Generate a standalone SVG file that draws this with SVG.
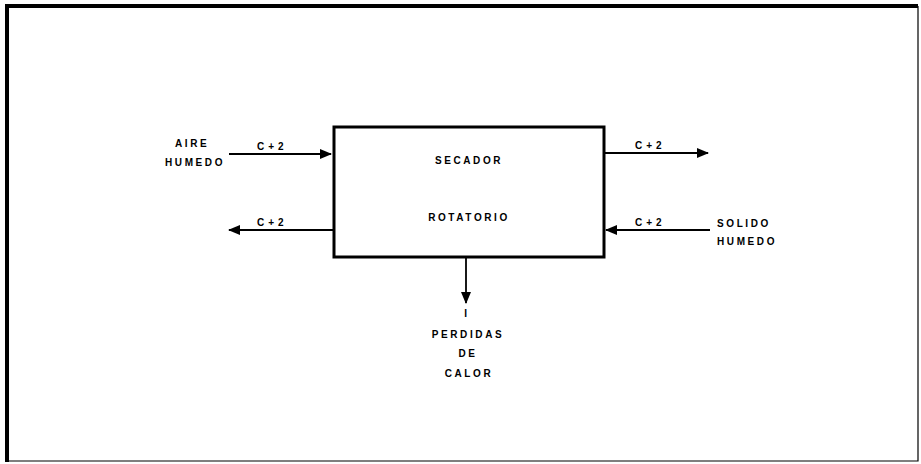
<svg xmlns="http://www.w3.org/2000/svg" width="921" height="464" viewBox="0 0 921 464">
<defs>
<marker id="ah" markerWidth="12" markerHeight="10" refX="11" refY="5" orient="auto" markerUnits="userSpaceOnUse">
<path d="M0,0 L12,5 L0,10 Z" fill="#000"/>
</marker>
<style>
.t{font-family:"Liberation Sans",Arial,sans-serif;font-weight:bold;font-size:10px;letter-spacing:2.6px;fill:#000}
.k{letter-spacing:4px}
.c{text-anchor:middle}
.ln{stroke:#000;stroke-width:1.8;fill:none}
</style>
</defs>
<rect width="921" height="464" fill="#fff"/>
<g id="frame">
<path d="M7,462 L7,6 L918,6" stroke="#000" stroke-width="4" fill="none"/>
<path d="M918,6 L918,461 L7,461" stroke="#000" stroke-width="1.2" fill="none"/>
</g>
<g id="secador">
<rect x="334" y="127" width="270" height="130" fill="none" stroke="#000" stroke-width="3"/>
<text class="t c" x="469" y="164">SECADOR</text>
<text class="t c" x="469" y="221">ROTATORIO</text>
</g>
<g id="aire-humedo">
<text class="t" x="175" y="147">AIRE</text>
<text class="t" x="165" y="166">HUMEDO</text>
</g>
<g id="solido-humedo">
<text class="t" x="717" y="227">SOLIDO</text>
<text class="t" x="717" y="245">HUMEDO</text>
</g>
<g id="perdidas">
<text class="t c" x="467" y="317">I</text>
<text class="t c" x="468" y="338">PERDIDAS</text>
<text class="t c" x="468" y="357">DE</text>
<text class="t c" x="469" y="377">CALOR</text>
</g>
<g id="connectors">
<line class="ln" x1="229" y1="154" x2="331" y2="154" marker-end="url(#ah)"/>
<text class="t k" x="257" y="150">C+2</text>
<line class="ln" x1="334" y1="230" x2="229" y2="230" marker-end="url(#ah)"/>
<text class="t k" x="257" y="226">C+2</text>
<line class="ln" x1="604" y1="153" x2="708" y2="153" marker-end="url(#ah)"/>
<text class="t k" x="635" y="149">C+2</text>
<line class="ln" x1="710" y1="230" x2="606" y2="230" marker-end="url(#ah)"/>
<text class="t k" x="635" y="226">C+2</text>
<line class="ln" x1="466" y1="257" x2="466" y2="303" marker-end="url(#ah)"/>
</g>
</svg>
